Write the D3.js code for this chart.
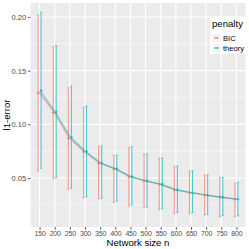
<!DOCTYPE html>
<html>
<head>
<meta charset="utf-8">
<script src="https://cdn.jsdelivr.net/npm/d3@7"></script>
<style>
  body { margin: 0; background: #fff; }
  text { font-family: "Liberation Sans", Arial, sans-serif; }
</style>
</head>
<body>
<svg width="249" height="249"></svg>
<script>
var sizes = ["150","200","250","300","350","400","450","500","550","600","650","700","750","800"];
var penalties = ["BIC", "theory"];

var bicMean  = [0.1294, 0.1110, 0.0870, 0.0745, 0.0637, 0.0584, 0.0512, 0.0472, 0.0441, 0.0388, 0.0363, 0.0339, 0.0320, 0.0302];
var bicLow   = [0.0568, 0.0497, 0.0395, 0.0317, 0.0304, 0.0274, 0.0239, 0.0224, 0.0208, 0.0171, 0.0171, 0.0155, 0.0140, 0.0140];
var bicHigh  = [0.2018, 0.1722, 0.1340, 0.1158, 0.0792, 0.0708, 0.0786, 0.0720, 0.0683, 0.0605, 0.0565, 0.0528, 0.0503, 0.0450];

var thMean   = [0.1313, 0.1115, 0.0880, 0.0748, 0.0640, 0.0586, 0.0514, 0.0474, 0.0443, 0.0390, 0.0365, 0.0341, 0.0322, 0.0304];
var thLow    = [0.0590, 0.0503, 0.0404, 0.0326, 0.0310, 0.0283, 0.0249, 0.0230, 0.0214, 0.0177, 0.0177, 0.0161, 0.0149, 0.0149];
var thHigh   = [0.2043, 0.1732, 0.1357, 0.1170, 0.0800, 0.0714, 0.0792, 0.0726, 0.0686, 0.0612, 0.0568, 0.0530, 0.0506, 0.0460];

var yTicks = [0.05, 0.10, 0.15, 0.20];
var yMinor = [0.025, 0.075, 0.125, 0.175];

var colors = { BIC: "#F8766D", theory: "#00BFC4" };

var series = [
  { name: "BIC", mean: bicMean, low: bicLow, high: bicHigh, off: -1.5 },
  { name: "theory", mean: thMean, low: thLow, high: thHigh, off: 1.5 }
];

var svg = d3.select("svg");
var pLeft = 30.5, pRight = 245.5, pTop = 3, pBottom = 227;

var x = d3.scalePoint().domain(sizes).range([pLeft, pRight]).padding(0.6);
var y = d3.scaleLinear().domain([0.0044, 0.213]).range([pBottom, pTop]);

svg.append("rect")
  .attr("x", pLeft).attr("y", pTop)
  .attr("width", pRight - pLeft).attr("height", pBottom - pTop)
  .attr("fill", "#EBEBEB");

var grid = svg.append("g");
grid.selectAll(".minor")
  .data(yMinor)
  .enter().append("line")
  .attr("x1", pLeft).attr("x2", pRight)
  .attr("y1", function(d) { return y(d); })
  .attr("y2", function(d) { return y(d); })
  .attr("stroke", "#fff").attr("stroke-width", 0.5);
grid.selectAll(".major")
  .data(yTicks)
  .enter().append("line")
  .attr("x1", pLeft).attr("x2", pRight)
  .attr("y1", function(d) { return y(d); })
  .attr("y2", function(d) { return y(d); })
  .attr("stroke", "#fff").attr("stroke-width", 1.07);
grid.selectAll(".vx")
  .data(sizes)
  .enter().append("line")
  .attr("y1", pTop).attr("y2", pBottom)
  .attr("x1", function(d) { return x(d); })
  .attr("x2", function(d) { return x(d); })
  .attr("stroke", "#fff").attr("stroke-width", 1.07);

// error bars
series.forEach(function(s) {
  var g = svg.append("g").attr("stroke", colors[s.name]).attr("stroke-opacity", 0.7).attr("fill", "none");
  sizes.forEach(function(n, i) {
    var cx = x(n) + s.off;
    g.append("line")
      .attr("x1", cx).attr("x2", cx)
      .attr("y1", y(s.low[i])).attr("y2", y(s.high[i]))
      .attr("stroke-width", 1.1);
    [s.low[i], s.high[i]].forEach(function(v) {
      g.append("line")
        .attr("x1", cx - 1.2).attr("x2", cx + 1.2)
        .attr("y1", y(v)).attr("y2", y(v))
        .attr("stroke-width", 0.8);
    });
  });
});

// lines (nearly on top of each other) and points
series.forEach(function(s) {
  var line = d3.line()
    .x(function(d, i) { return x(sizes[i]) + s.off / 3; })
    .y(function(d) { return y(d); });
  svg.append("path")
    .datum(s.mean)
    .attr("d", line)
    .attr("fill", "none")
    .attr("stroke", colors[s.name])
    .attr("stroke-opacity", 0.7)
    .attr("stroke-width", 1.1);
});
series.forEach(function(s) {
  var g = svg.append("g").attr("stroke", colors[s.name]).attr("stroke-width", 0.9);
  s.mean.forEach(function(v, i) {
    var cx = x(sizes[i]) + s.off, cy = y(v);
    g.append("line").attr("x1", cx - 1.5).attr("x2", cx + 1.5).attr("y1", cy).attr("y2", cy);
    g.append("line").attr("x1", cx).attr("x2", cx).attr("y1", cy - 1.5).attr("y2", cy + 1.5);
  });
});

// axes
var yAxis = svg.append("g")
  .attr("transform", "translate(" + pLeft + ",0)")
  .call(d3.axisLeft(y).tickValues(yTicks).tickFormat(d3.format(".2f")).tickSize(2.7).tickPadding(1.5));
var xAxis = svg.append("g")
  .attr("transform", "translate(0," + pBottom + ")")
  .call(d3.axisBottom(x).tickSize(2.7).tickPadding(1.5));
[xAxis, yAxis].forEach(function(a) {
  a.select(".domain").remove();
  a.selectAll(".tick line").attr("stroke", "#333").attr("stroke-width", 0.8);
  a.selectAll(".tick text").attr("fill", "#4D4D4D").style("font-size", "7.6px")
    .style("font-family", "Liberation Sans, Arial, sans-serif");
});
xAxis.selectAll(".tick text").style("font-size", "7px").attr("letter-spacing", "-0.2");

svg.append("text")
  .attr("x", (pLeft + pRight) / 2).attr("y", 245.5)
  .attr("text-anchor", "middle")
  .style("font-size", "9.6px")
  .text("Network size n");
svg.append("text")
  .attr("transform", "translate(10," + ((pTop + pBottom) / 2) + ") rotate(-90)")
  .attr("text-anchor", "middle")
  .style("font-size", "9.6px")
  .text("l1-error");

// legend
var lg = svg.append("g").attr("transform", "translate(210,16)");
lg.append("rect").attr("width", 37).attr("height", 38).attr("fill", "#fff");
lg.append("text").attr("x", 2).attr("y", 11).style("font-size", "9.6px").text("penalty");
penalties.forEach(function(p, i) {
  var ky = 22 + i * 10;
  lg.append("rect").attr("x", 2.5).attr("y", ky - 4).attr("width", 8).attr("height", 8).attr("fill", "#F2F2F2");
  lg.append("line").attr("x1", 4.5).attr("x2", 8.5).attr("y1", ky).attr("y2", ky)
    .attr("stroke", colors[p]).attr("stroke-width", 2).attr("stroke-opacity", 0.7);
  lg.append("text").attr("x", 13).attr("y", ky + 2.8).style("font-size", "7.6px").attr("fill", "#000").text(p);
});
</script>
</body>
</html>
